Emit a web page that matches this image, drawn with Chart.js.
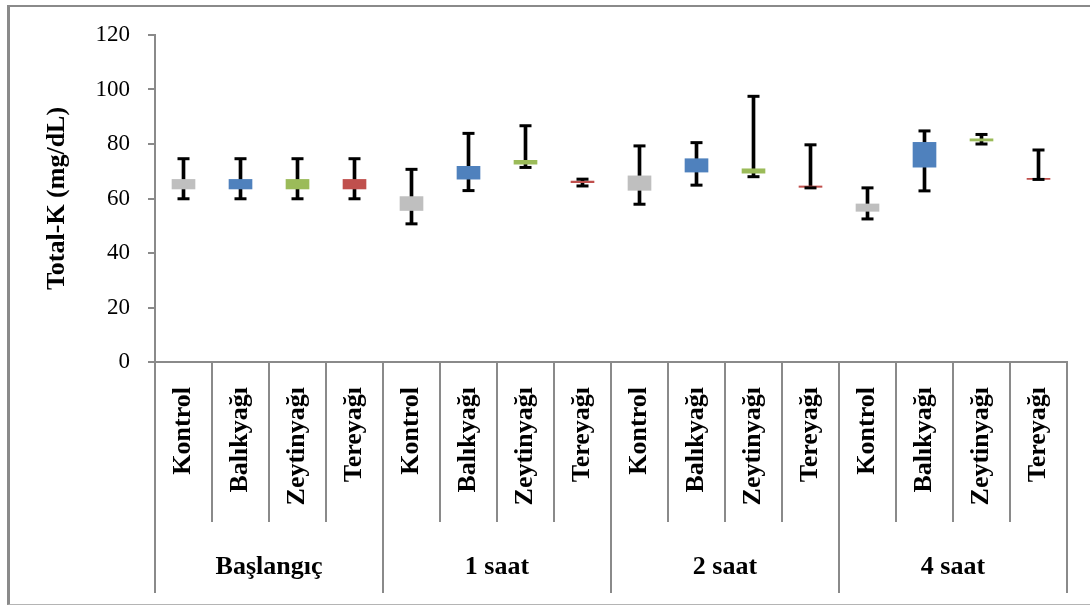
<!DOCTYPE html>
<html>
<head>
<meta charset="utf-8">
<script src="https://cdn.jsdelivr.net/npm/chart.js@4/dist/chart.umd.min.js"></script>
<style>
  html, body { margin: 0; padding: 0; background: #fff; }
  #wrap { position: relative; width: 1090px; height: 606px; overflow: hidden; }
  #frame { position: absolute; left: 7px; top: 5px; width: 1100px; height: 597px;
           border-left: 3px solid #8a8a8a; border-top: 2px solid #8a8a8a; border-bottom: 1px solid #b4b4b4;
           pointer-events: none; }
  canvas { position: absolute; left: 0; top: 0; }
</style>
</head>
<body>
<div id="wrap"><canvas id="chart"></canvas><div id="frame"></div></div>
<script>
// time points and groups
const groups = ["Başlangıç", "1 saat", "2 saat", "4 saat"];
const treatments = ["Kontrol", "Balıkyağı", "Zeytinyağı", "Tereyağı"];
const labels = groups.flatMap(() => treatments);

// whisker ends (min / max)
const whiskerMin = [59.9, 59.9, 59.9, 59.9, 50.7, 62.9, 71.4, 64.6, 57.9, 64.9, 68.0, 63.9, 52.5, 62.8, 80.0, 67.0];
const whiskerMax = [74.6, 74.6, 74.6, 74.6, 70.7, 83.9, 86.7, 67.1, 79.3, 80.5, 97.5, 79.7, 63.9, 84.8, 83.5, 77.8];
// coloured box (low / high)
const boxLow  = [63.5, 63.5, 63.5, 63.5, 55.6, 67.1, 72.6, 65.8, 63.0, 69.7, 69.3, 64.1, 55.3, 71.5, 81.1, 67.0];
const boxHigh = [67.0, 67.0, 67.0, 67.0, 60.7, 71.8, 74.0, 66.4, 68.3, 74.6, 70.9, 64.6, 58.0, 80.6, 81.9, 67.4];

const seriesColors = ["#BFBFBF", "#4F81BD", "#9BBB59", "#C0504D"];

const serif = "'Liberation Serif', 'Times New Roman', serif";
const gray = "#8a8a8a";

const ctx = document.getElementById("chart").getContext("2d");
new Chart(ctx, {
  type: "bar",
  data: {
    labels: labels,
    datasets: [
      {
        label: "whisker",
        data: labels.map((_, i) => [whiskerMin[i], whiskerMax[i]]),
        backgroundColor: "#000",
        barThickness: 3,
        grouped: false,
        order: 3
      },
      {
        label: "box",
        data: labels.map((_, i) => [boxLow[i], boxHigh[i]]),
        backgroundColor: labels.map((_, i) => seriesColors[i % 4]),
        barThickness: 23,
        grouped: false,
        order: 2
      },
      {
        type: "line",
        label: "min",
        data: whiskerMin,
        showLine: false,
        pointStyle: "line",
        pointRadius: 6,
        pointBorderWidth: 3,
        pointBorderColor: "#000",
        order: 1
      },
      {
        type: "line",
        label: "max",
        data: whiskerMax,
        showLine: false,
        pointStyle: "line",
        pointRadius: 6,
        pointBorderWidth: 3,
        pointBorderColor: "#000",
        order: 1
      }
    ]
  },
  options: {
    responsive: true,
    maintainAspectRatio: false,
    animation: false,
    events: [],
    layout: { padding: { left: 0, right: 23, top: 35, bottom: 13 } },
    plugins: { legend: { display: false }, tooltip: { enabled: false } },
    scales: {
      x: {
        position: "bottom",
        grid: { offset: true, drawOnChartArea: false, tickLength: 160, color: gray, lineWidth: 2 },
        border: { color: gray, width: 2 },
        ticks: {
          autoSkip: false, minRotation: 90, maxRotation: 90, padding: -135,
          color: "#000", font: { family: serif, size: 26, weight: "bold" }
        },
        afterFit: s => { s.height = 160; }
      },
      x2: {
        type: "category",
        labels: groups,
        position: "bottom",
        offset: true,
        grid: { offset: true, drawOnChartArea: false, tickLength: 71, color: gray, lineWidth: 2 },
        border: { display: false },
        ticks: { padding: -41, color: "#000", font: { family: serif, size: 26, weight: "bold" } },
        afterFit: s => { s.height = 71; }
      },
      y: {
        min: 0,
        max: 120,
        ticks: { stepSize: 20, padding: 18, color: "#000", font: { family: serif, size: 23 } },
        grid: { drawOnChartArea: false, tickLength: 7, color: gray, lineWidth: 2 },
        border: { color: gray, width: 2 },
        title: {
          display: true, text: "Total-K (mg/dL)", color: "#000",
          font: { family: serif, size: 26, weight: "bold" },
          padding: { top: 42, bottom: 0 }
        },
        afterFit: s => { s.width = 155; }
      }
    }
  }
});
</script>
</body>
</html>
